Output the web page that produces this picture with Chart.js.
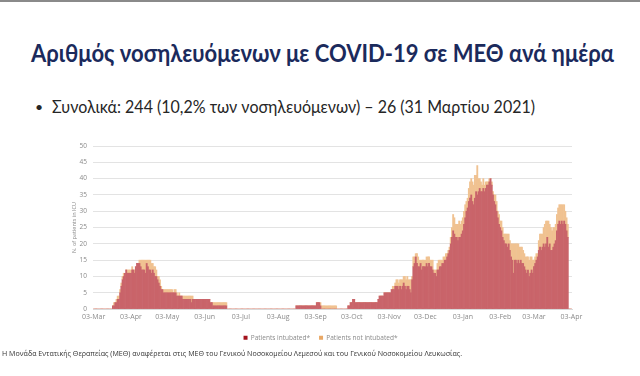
<!DOCTYPE html>
<html>
<head>
<meta charset="utf-8">
<script src="https://cdn.jsdelivr.net/npm/chart.js@4.4.1/dist/chart.umd.min.js"></script>
<style>
    body { margin: 0; background: #fff; }
    #slide { position: relative; width: 640px; height: 376px; overflow: hidden; background: #fff; }
    #topline { position: absolute; left: 0; top: 0; width: 640px; height: 2px; background: #8a8a8a; }
    #title { position: absolute; left: 31px; top: 37px; font-family: Lato, "Open Sans", sans-serif; font-weight: bold; font-size: 25px; color: #1b2a5c; white-space: nowrap; transform-origin: left center; }
    #bullet { position: absolute; left: 35px; top: 98px; font-family: Lato, "Open Sans", sans-serif; font-size: 14px; color: #262626; white-space: nowrap; }
    #bullet-text { position: absolute; left: 52px; top: 96px; font-family: Lato, "Open Sans", sans-serif; font-size: 17.5px; color: #262626; white-space: nowrap; transform-origin: left center; }
    #chart-box { position: absolute; left: 0; top: 130px; width: 640px; height: 230px; }
    #footer { position: absolute; left: 2px; top: 348px; font-family: "Open Sans", "DejaVu Sans", sans-serif; font-size: 7.4px; color: #333; white-space: nowrap; transform-origin: left center; }
</style>
</head>
<body>
<div id="slide">
    <div id="topline"></div>
    <div id="title">Αριθμός νοσηλευόμενων με COVID-19 σε ΜΕΘ ανά ημέρα</div>
    <div id="bullet">•</div>
    <div id="bullet-text">Συνολικά: 244 (10,2% των νοσηλευόμενων) – 26 (31 Μαρτίου 2021)</div>
    <div id="chart-box"><canvas id="icu-chart" width="640" height="221"></canvas></div>
    <div id="footer">Η Μονάδα Εντατικής Θεραπείας (ΜΕΘ) αναφέρεται στις ΜΕΘ του Γενικού Νοσοκομείου Λεμεσού και του Γενικού Νοσοκομείου Λευκωσίας.</div>
</div>
<script>
// Daily ICU patients, 03-Mar-2020 .. 03-Apr-2021 (one line per month)
const intubated = [
    0,0,0,0,0,0,0,0,0,0,0,0,0,0,0,0,1,1,2,2,3,3,5,7,9,10,11,12,11,11,11,
    11,12,12,11,13,14,14,14,13,12,12,12,11,14,13,12,12,11,12,11,10,10,9,8,7,6,6,5,5,5,
    5,5,5,5,5,5,5,5,4,4,4,4,4,3,3,3,3,3,3,3,2,3,3,3,3,3,3,3,3,3,3,
    3,3,3,3,3,2,2,1,1,1,1,1,1,1,1,1,1,1,1,0,0,0,0,0,0,0,0,0,0,0,
    0,0,0,0,0,0,0,0,0,0,0,0,0,0,0,0,0,0,0,0,0,0,0,0,0,0,0,0,0,0,0,
    0,0,0,0,0,0,0,0,0,0,0,0,0,0,0,1,1,1,1,1,1,1,1,1,1,1,1,1,1,1,1,
    1,2,2,2,1,0,0,0,0,0,0,0,0,0,0,0,0,0,0,0,0,0,0,0,0,0,0,1,1,2,
    2,3,3,2,2,2,2,2,2,2,2,2,2,2,2,2,2,2,2,2,2,2,3,4,4,4,4,5,5,5,5,
    5,5,6,6,6,7,7,7,6,7,6,7,8,7,6,7,7,6,5,9,13,14,16,14,13,13,14,12,13,13,
    13,14,13,14,13,13,12,11,11,10,12,12,13,13,14,14,15,15,16,17,18,20,22,24,23,22,22,21,22,22,23,
    24,26,28,30,31,33,34,35,33,32,34,36,35,36,37,36,36,37,36,37,38,38,39,40,38,35,33,32,30,28,26,
    25,24,22,21,20,20,19,20,18,16,15,11,15,15,14,15,14,15,14,14,13,12,11,12,10,11,12,11,
    13,14,15,16,18,19,18,19,20,19,20,22,19,20,18,18,19,20,21,24,26,27,26,27,26,27,26,24,22,0,0,0
];
const notIntubated = [
    0,0,0,0,0,0,0,0,0,0,0,0,0,0,0,0,0,1,0,1,1,1,1,1,1,1,0,0,1,1,1,
    1,1,0,1,0,0,0,1,2,3,3,3,4,1,2,3,3,3,2,2,3,2,1,2,2,1,0,1,1,1,
    1,1,1,1,1,0,1,1,1,0,1,0,0,1,1,1,1,1,1,1,2,1,0,0,0,0,0,0,0,0,0,
    0,0,0,0,0,0,0,1,1,1,1,1,1,1,1,1,1,1,1,0,0,0,0,0,0,0,0,0,0,0,
    0,0,0,0,0,0,0,0,0,0,0,0,0,0,0,0,0,0,0,0,0,0,0,0,0,0,0,0,0,0,0,
    0,0,0,0,0,0,0,0,0,0,0,0,0,0,0,0,0,0,0,0,0,0,0,0,0,0,0,0,0,0,0,
    0,0,0,0,1,1,1,1,1,1,1,1,1,1,1,1,1,1,0,0,0,0,0,0,0,0,0,0,0,0,
    0,0,0,0,0,0,0,0,0,0,0,0,0,0,0,0,0,0,0,0,0,0,0,0,0,0,0,0,0,0,0,
    0,0,0,1,1,1,2,2,2,2,3,2,2,3,3,3,2,3,4,1,3,2,1,3,3,2,1,3,2,2,
    2,2,3,2,2,2,3,1,1,2,2,3,2,2,1,2,1,2,1,1,1,2,3,5,5,4,4,5,5,4,4,
    4,4,4,3,3,4,5,5,6,6,7,5,9,4,3,3,2,3,2,2,1,1,1,0,1,1,2,3,3,2,3,
    2,3,3,2,3,3,4,3,3,4,5,9,5,5,6,5,5,4,5,4,4,4,5,4,5,5,4,4,
    2,2,2,1,3,4,5,4,5,7,7,5,8,6,7,6,6,5,5,5,5,5,6,5,6,5,4,4,4,0,0,0
];
const monthNames = ["Jan", "Feb", "Mar", "Apr", "May", "Jun", "Jul", "Aug", "Sep", "Oct", "Nov", "Dec"];
const tickLabels = ["03-Mar", "03-Apr", "03-May", "03-Jun", "03-Jul", "03-Aug", "03-Sep", "03-Oct", "03-Nov", "03-Dec", "03-Jan", "03-Feb"];
const seriesNames = ["Patients intubated*", "Patients not intubated*"];

// one category per day
const days = [];
for (let i = 0; i < intubated.length; i++) {
    const d = new Date(2020, 2, 3 + i);
    days.push(String(d.getDate()).padStart(2, "0") + "-" + monthNames[d.getMonth()]);
}

const barColors = ["#c9646a", "#f0c291"];
const legendColors = ["#a3121d", "#e9a866"];

const icuData = {
    labels: days,
    datasets: [
        {
            label: seriesNames[0],
            data: intubated,
            backgroundColor: barColors[0],
            barPercentage: 1,
            categoryPercentage: 1,
        },
        {
            label: seriesNames[1],
            data: notIntubated,
            backgroundColor: barColors[1],
            barPercentage: 1,
            categoryPercentage: 1,
        },
    ],
};

const icuConfig = {
    type: "bar",
    data: icuData,
    options: {
        responsive: false,
        animation: false,
        layout: {
            padding: { left: 69, right: 68, top: 16, bottom: 0 },
        },
        scales: {
            x: {
                stacked: true,
                grid: { display: false, drawTicks: false },
                border: { color: "#d9d9d9" },
                ticks: {
                    autoSkip: false,
                    maxRotation: 0,
                    minRotation: 0,
                    padding: 4,
                    color: "#8a8a8a",
                    font: { family: "Open Sans", size: 7 },
                    callback: function (value) {
                        const label = this.getLabelForValue(value);
                        return tickLabels.includes(label) ? label : "";
                    },
                },
            },
            y: {
                stacked: true,
                min: 0,
                max: 50,
                border: { display: false },
                grid: { color: "#e3e3e3", drawTicks: false },
                ticks: {
                    stepSize: 5,
                    padding: 6,
                    color: "#8a8a8a",
                    font: { family: "Open Sans", size: 6.5 },
                },
                title: {
                    display: true,
                    text: "N. of patients in ICU",
                    color: "#8a8a8a",
                    font: { family: "Open Sans", size: 5.5 },
                    padding: { top: 2, bottom: 0 },
                },
                afterFit: (scale) => {
                    scale.width = 24;
                },
            },
        },
        plugins: {
            tooltip: { enabled: false },
            legend: {
                position: "bottom",
                labels: {
                    boxWidth: 4,
                    boxHeight: 4,
                    padding: 9,
                    color: "#8a8a8a",
                    font: { family: "Open Sans", size: 6.5 },
                    generateLabels: (chart) =>
                        chart.data.datasets.map((ds, i) => ({
                            text: ds.label,
                            fillStyle: legendColors[i],
                            strokeStyle: legendColors[i],
                            lineWidth: 0,
                            fontColor: "#8a8a8a",
                            datasetIndex: i,
                        })),
                },
            },
        },
    },
};

const icuChart = new Chart(document.getElementById("icu-chart"), icuConfig);

// stretch the slide texts to the widths seen in the picture
function fitWidth(id, target) {
    const el = document.getElementById(id);
    const w = el.getBoundingClientRect().width;
    el.style.transform = `scaleX(${target / w})`;
}
fitWidth("title", 583);
fitWidth("bullet-text", 483);
fitWidth("footer", 460);
</script>
</body>
</html>
